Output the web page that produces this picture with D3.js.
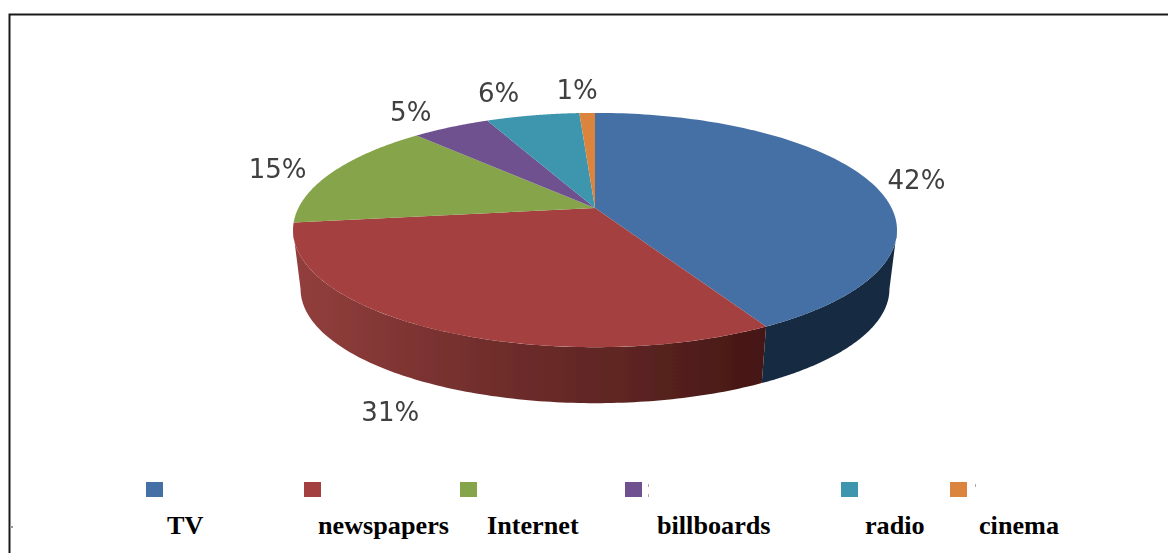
<!DOCTYPE html>
<html><head><meta charset="utf-8">
<script src="https://cdn.jsdelivr.net/npm/d3@7/dist/d3.min.js"></script>
<style>html,body{margin:0;padding:0;background:#fff;overflow:hidden}svg{display:block}</style>
</head><body><svg id="c" width="1168" height="553"></svg>
<script>
const categories = ["TV","newspapers","Internet","billboards","radio","cinema"];
const shares = [42,31,15,5,6,1];
const labels = ["42%","31%","15%","5%","6%","1%"];
const colors = ["#456fa5","#a5403f","#86a44a","#6f5190","#3d96ae","#db843d"];
const wallColors = ["#172a43","url(#redWall)",null,null,null,null];
const labelOffset = [[47,-1],[-43,83],[-55,-3],[-40,-15],[-34,-22],[-10,-23]];
const swatchX = [146,304,460,625,841,950];
const legendX = [167,318,487,657,865,979];

const svg = d3.select("#c");
const defs = svg.append("defs");
defs.append("filter").attr("id","soft").attr("x","-5%").attr("y","-5%").attr("width","110%").attr("height","110%")
  .append("feGaussianBlur").attr("stdDeviation",0.7);
const grad = defs.append("linearGradient").attr("id","redWall").attr("gradientUnits","userSpaceOnUse")
  .attr("x1",293).attr("x2",765).attr("y1",0).attr("y2",0);
[[0,"#933f3d"],[0.35,"#75302e"],[0.7,"#5e2523"],[1,"#451614"]].forEach(s=>grad.append("stop").attr("offset",s[0]).attr("stop-color",s[1]));

// frame and scan specks
svg.append("path").attr("d","M1168,14.5H9.5V553").attr("fill","none").attr("stroke","#1a1a1a").attr("stroke-width",2);
svg.append("rect").attr("x",10).attr("y",526).attr("width",3).attr("height",2).attr("fill","#999");
svg.append("g").attr("fill","#aaa").selectAll("rect").data([[648,484],[648,494],[975,484]]).join("rect")
  .attr("x",d=>d[0]).attr("y",d=>d[1]).attr("width",1).attr("height",3);

// perspective disc
const cx=595, X=296.6, Y=113, P=-0.188;
function rim(a,s,y0){ const u=Math.sin(a), v=-Math.cos(a), w=1+P*v; return [cx+s*X*u/w, y0+s*Y*v/w]; }
const topY=208, botY=267.5, botS=0.975;
const aRight=Math.acos(P), aLeft=2*Math.PI-aRight;   // silhouette tangents of the disc
const arcs = d3.pie().sort(null).value(d=>d).startAngle(0).endAngle(2*Math.PI)(shares);
const line = d3.line();
const chart = svg.append("g").attr("filter","url(#soft)");
const sweep = (a0,a1) => d3.range(0,121).map(i=>a0+(a1-a0)*i/120);

chart.selectAll("path.wall").data(arcs.filter(d=>wallColors[d.index])).join("path").attr("class","wall")
  .attr("fill",d=>wallColors[d.index])
  .attr("d",d=>{const t=sweep(Math.max(d.startAngle,aRight),Math.min(d.endAngle,aLeft));
    return line([...t.map(a=>rim(a,1,topY)),...t.slice().reverse().map(a=>rim(a,botS,botY))])+"Z";});
chart.selectAll("path.face").data(arcs).join("path").attr("class","face")
  .attr("fill",(d,i)=>colors[i])
  .attr("d",d=>line([[cx,topY],...sweep(d.startAngle,d.endAngle).map(a=>rim(a,1,topY))])+"Z");

// value labels
svg.append("g").attr("filter","url(#soft)").selectAll("text").data(arcs).join("text")
  .attr("x",(d,i)=>rim((d.startAngle+d.endAngle)/2,1,topY)[0]+labelOffset[i][0])
  .attr("y",(d,i)=>rim((d.startAngle+d.endAngle)/2,1,topY)[1]+labelOffset[i][1]+9)
  .attr("text-anchor","middle").attr("font-family","'DejaVu Sans',sans-serif").attr("font-size",26)
  .attr("fill","#404040").text((d,i)=>labels[i]);

// legend
svg.append("g").attr("filter","url(#soft)").selectAll("rect").data(categories).join("rect")
  .attr("x",(d,i)=>swatchX[i]).attr("y",482).attr("width",17).attr("height",15).attr("fill",(d,i)=>colors[i]);
svg.append("g").selectAll("text").data(categories).join("text")
  .attr("x",(d,i)=>legendX[i]).attr("y",534)
  .attr("font-family","'Liberation Serif',serif").attr("font-weight","bold").attr("font-size",26.2)
  .attr("fill","#000").text(d=>d);
</script></body></html>
